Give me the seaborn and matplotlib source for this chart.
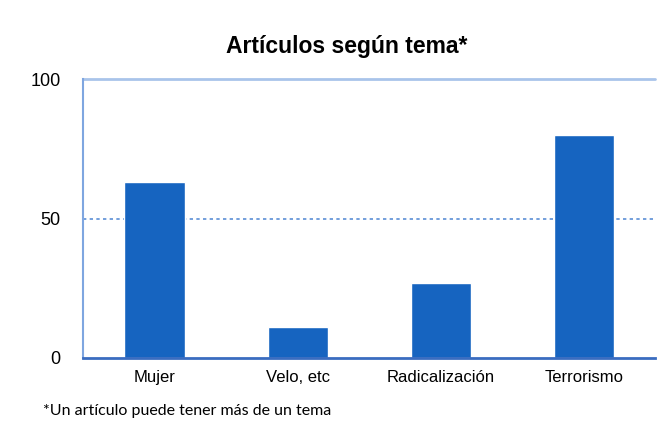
import matplotlib
matplotlib.use("Agg")
import matplotlib.pyplot as plt
import seaborn as sns
import pandas as pd

# data
temas = ["Mujer", "Velo, etc", "Radicalización", "Terrorismo"]
articulos = [63, 11, 27, 80]
y_ticks = [0, 50, 100]

df = pd.DataFrame({"tema": temas, "articulos": articulos})

sns.set_style("white")
plt.rcParams["font.family"] = ["Liberation Sans", "DejaVu Sans"]
plt.rcParams["text.color"] = "black"
plt.rcParams["xtick.color"] = "black"
plt.rcParams["ytick.color"] = "black"

fig = plt.figure(figsize=(6.67, 4.4), dpi=100)
ax = fig.add_axes([0.1244, 0.1864, 0.858, 0.634])

sns.barplot(data=df, x="tema", y="articulos", color="#1664C0",
            saturation=1, width=0.42, ax=ax)

ax.set_ylim(0, 100)
ax.set_xlim(-0.5, 3.5)
ax.set_yticks(y_ticks)
ax.set_yticklabels([str(t) for t in y_ticks], fontsize=13)
ax.tick_params(axis="y", length=0, pad=16)
ax.tick_params(axis="x", length=0, pad=9, labelsize=12)
ax.set_xlabel("")
ax.set_ylabel("")

# gridlines: 50 dotted, 100 solid light blue
ax.axhline(50, color="#5b8fd6", lw=1.2, ls=(0, (2, 2)), zorder=0)
ax.axhline(100, color="#a9c4ea", lw=2, zorder=0, clip_on=False)

for s in ["top", "right"]:
    ax.spines[s].set_visible(False)
ax.spines["left"].set_color("#7fa6e0")
ax.spines["left"].set_linewidth(1.5)
ax.spines["bottom"].set_color("#3a6cc0")
ax.spines["bottom"].set_linewidth(2)

fig.text(0.52, 0.895, "Artículos según tema*", ha="center", va="center",
         fontsize=16.5, fontweight="bold")
fig.text(0.064, 0.066, "*Un artículo puede tener más de un tema",
         ha="left", va="center", fontsize=11.5,
         family=["Lato", "DejaVu Sans"])

fig.savefig("out.png", dpi=100, facecolor="white")
